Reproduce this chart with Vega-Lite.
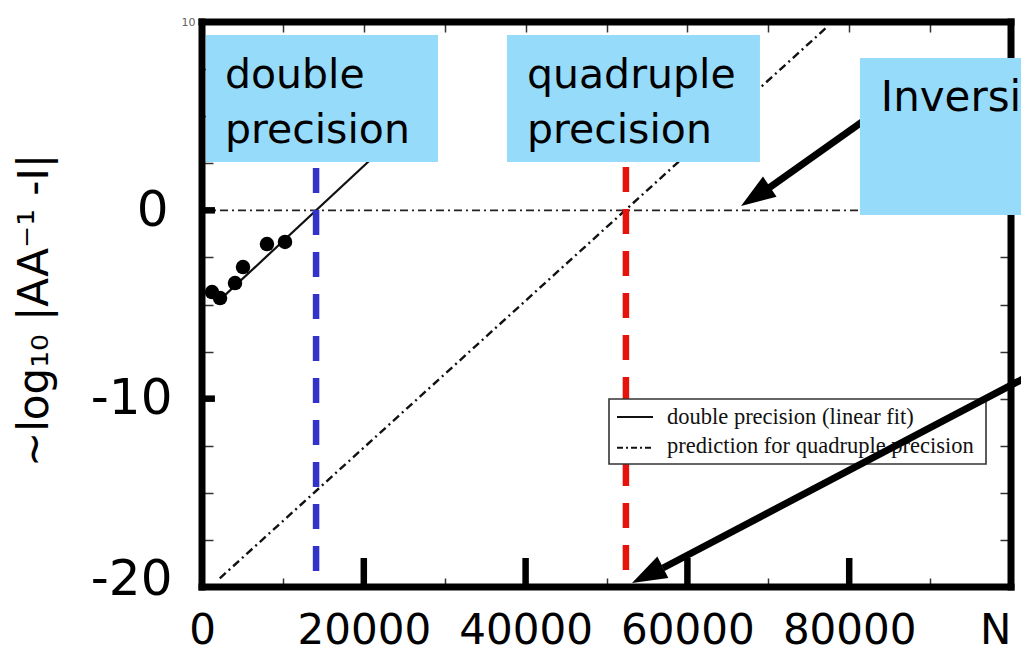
{
  "$schema": "https://vega.github.io/schema/vega-lite/v6.json",
  "width": 809,
  "height": 565,
  "autosize": {"type": "none"},
  "padding": {"left": 202, "top": 22, "right": 10, "bottom": 60},
  "background": "white",
  "config": {"view": {"stroke": null}, "font": "DejaVu Sans"},
  "datasets": {
    "zero": [{"N": 0, "v": 0}, {"N": 100000, "v": 0}],
    "quad": [{"N": 2200, "v": -19.54}, {"N": 77200, "v": 9.71}],
    "fit": [{"N": 1980, "v": -4.85}, {"N": 26000, "v": 4.76}],
    "pts": [
      {"N": 1240, "v": -4.34},
      {"N": 2230, "v": -4.66},
      {"N": 4080, "v": -3.86},
      {"N": 5070, "v": -3.01},
      {"N": 8030, "v": -1.79},
      {"N": 10260, "v": -1.68}
    ],
    "vlines": [
      {"N": 14100, "v": 2.25, "v2": -19.2, "c": "#3333cc"},
      {"N": 52400, "v": 2.3, "v2": -19.2, "c": "#e8120c"}
    ],
    "frame": [
      {"N": 0, "N2": 100000, "v": 10, "v2": 10},
      {"N": 0, "N2": 100000, "v": -20, "v2": -20},
      {"N": 0, "N2": 0, "v": -20, "v2": 10},
      {"N": 100000, "N2": 100000, "v": -20, "v2": 10}
    ],
    "bigticks": [
      {"N": 20000, "N2": 20000, "v": -20, "v2": -18.46},
      {"N": 40000, "N2": 40000, "v": -20, "v2": -18.46},
      {"N": 60000, "N2": 60000, "v": -20, "v2": -18.46},
      {"N": 80000, "N2": 80000, "v": -20, "v2": -18.46},
      {"N": 0, "N2": 1600, "v": 0, "v2": 0},
      {"N": 0, "N2": 1600, "v": -10, "v2": -10}
    ],
    "legbox": [{"N": 50310, "N2": 96910, "v": -10.02, "v2": -13.47}],
    "leg1": [{"N": 51300, "v": -10.97}, {"N": 55750, "v": -10.97}],
    "leg2": [{"N": 51300, "v": -12.6}, {"N": 55750, "v": -12.6}],
    "legtext": [
      {"N": 57480, "v": -10.97, "t": "double precision (linear fit)"},
      {"N": 57480, "v": -12.51, "t": "prediction for quadruple precision"}
    ],
    "arrows": [
      {"N": 85040, "v": 5.75, "N2": 70090, "v2": 1.19},
      {"N": 103580, "v": -8.48, "N2": 56980, "v2": -18.99}
    ],
    "heads": [
      {"N": 66630, "v": 0.23, "a": 236},
      {"N": 53150, "v": -19.79, "a": 243}
    ],
    "boxes": [
      {"N": 490, "N2": 29170, "v": 9.31, "v2": 2.57},
      {"N": 37700, "N2": 68970, "v": 9.31, "v2": 2.57},
      {"N": 81330, "N2": 104000, "v": 8.09, "v2": -0.25}
    ],
    "boxtext": [
      {"N": 2840, "v": 6.5, "t": "double"},
      {"N": 2840, "v": 3.58, "t": "precision"},
      {"N": 40170, "v": 6.5, "t": "quadruple"},
      {"N": 40170, "v": 3.58, "t": "precision"}
    ],
    "invtext": [
      {"N": 83900, "v": 5.27, "t": "Inversion"}
    ]
  },
  "resolve": {"axis": {"x": "independent", "y": "independent"}},
  "layer": [
    {
      "data": {"name": "zero"},
      "mark": {"type": "line", "color": "#222", "strokeWidth": 1.8, "strokeDash": [8, 4, 2, 4]},
      "encoding": {
        "x": {
          "field": "N", "type": "quantitative",
          "scale": {"domain": [0, 100000], "nice": false, "zero": false},
          "axis": {
            "orient": "bottom",
            "values": [0, 10000, 20000, 30000, 40000, 50000, 60000, 70000, 80000, 90000, 100000],
            "labelExpr": "datum.value == 100000 ? 'N' : (datum.value % 20000 == 0 ? '' + datum.value : '')",
            "domain": false, "grid": false,
            "tickSize": -9, "tickWidth": 1.5, "tickColor": "#333",
            "labelFont": "DejaVu Sans", "labelFontSize": 42, "labelColor": "black",
            "labelBaseline": "alphabetic",
            "labelPadding": 65, "labelFlush": false, "labelOverlap": false,
            "labelAlign": {"condition": {"test": "datum.value == 100000", "value": "right"}, "value": "center"},
            "title": null
          }
        },
        "y": {
          "field": "v", "type": "quantitative",
          "scale": {"domain": [-20, 10], "nice": false, "zero": false},
          "axis": {
            "orient": "left",
            "values": [-20, -17.5, -15, -12.5, -10, -7.5, -5, -2.5, 0, 2.5, 5, 7.5, 10],
            "labelExpr": "datum.value == 0 ? '0' : datum.value == -10 ? '-10' : datum.value == -20 ? '-20' : datum.value == 10 ? '10' : ''",
            "domain": false, "grid": false,
            "tickSize": -11, "tickWidth": 1.5, "tickColor": "#333",
            "labelFont": "DejaVu Sans",
            "labelFontSize": {"condition": {"test": "datum.value == 10", "value": 11}, "value": 50},
            "labelColor": {"condition": {"test": "datum.value == 10", "value": "#666"}, "value": "black"},
            "labelPadding": {"condition": [{"test": "datum.value == 10", "value": 18}, {"test": "datum.value == 0", "value": 45}], "value": 41},
            "labelOffset": {"condition": {"test": "datum.value == -20", "value": -8}, "value": 0},
            "labelOverlap": false,
            "title": "~log₁₀ |AA⁻¹ -I|",
            "titleFont": "DejaVu Sans", "titleFontSize": 42, "titleFontWeight": "normal", "titleColor": "black",
            "titleAngle": 270, "titleX": -168, "titleY": 288, "titleAlign": "center", "titleBaseline": "middle"
          }
        }
      }
    },
    {
      "data": {"name": "quad"},
      "mark": {"type": "line", "color": "#111", "strokeWidth": 2.4, "strokeDash": [8, 4, 2, 4]},
      "encoding": {
        "x": {
          "field": "N", "type": "quantitative",
          "scale": {"domain": [0, 100000], "nice": false, "zero": false},
          "axis": {
            "orient": "top",
            "values": [0, 10000, 20000, 30000, 40000, 50000, 60000, 70000, 80000, 90000, 100000],
            "labels": false, "domain": false, "grid": false,
            "tickSize": -10, "tickWidth": 1.5, "tickColor": "#333", "title": null
          }
        },
        "y": {
          "field": "v", "type": "quantitative",
          "scale": {"domain": [-20, 10], "nice": false, "zero": false},
          "axis": {
            "orient": "right",
            "values": [-20, -17.5, -15, -12.5, -10, -7.5, -5, -2.5, 0, 2.5, 5, 7.5, 10],
            "labels": false, "domain": false, "grid": false,
            "tickSize": -11, "tickWidth": 1.5, "tickColor": "#333", "title": null
          }
        }
      }
    },
    {
      "data": {"name": "fit"},
      "mark": {"type": "line", "color": "#111", "strokeWidth": 2.2},
      "encoding": {
        "x": {"field": "N", "type": "quantitative", "scale": {"domain": [0, 100000], "nice": false, "zero": false}, "axis": null},
        "y": {"field": "v", "type": "quantitative", "scale": {"domain": [-20, 10], "nice": false, "zero": false}, "axis": null}
      }
    },
    {
      "data": {"name": "pts"},
      "mark": {"type": "point", "shape": "circle", "filled": true, "color": "#000", "opacity": 1, "size": 210},
      "encoding": {
        "x": {"field": "N", "type": "quantitative", "scale": {"domain": [0, 100000], "nice": false, "zero": false}, "axis": null},
        "y": {"field": "v", "type": "quantitative", "scale": {"domain": [-20, 10], "nice": false, "zero": false}, "axis": null}
      }
    },
    {
      "data": {"name": "vlines"},
      "mark": {"type": "rule", "strokeWidth": 6.5, "strokeDash": [25, 17]},
      "encoding": {
        "x": {"field": "N", "type": "quantitative", "scale": {"domain": [0, 100000], "nice": false, "zero": false}, "axis": null},
        "y": {"field": "v", "type": "quantitative", "scale": {"domain": [-20, 10], "nice": false, "zero": false}, "axis": null},
        "y2": {"field": "v2"},
        "color": {"field": "c", "type": "nominal", "scale": null, "legend": null}
      }
    },
    {
      "data": {"name": "frame"},
      "mark": {"type": "rule", "strokeWidth": 7, "color": "#000", "strokeCap": "square"},
      "encoding": {
        "x": {"field": "N", "type": "quantitative", "scale": {"domain": [0, 100000], "nice": false, "zero": false}, "axis": null},
        "x2": {"field": "N2"},
        "y": {"field": "v", "type": "quantitative", "scale": {"domain": [-20, 10], "nice": false, "zero": false}, "axis": null},
        "y2": {"field": "v2"}
      }
    },
    {
      "data": {"name": "bigticks"},
      "mark": {"type": "rule", "strokeWidth": 6.5, "color": "#000"},
      "encoding": {
        "x": {"field": "N", "type": "quantitative", "scale": {"domain": [0, 100000], "nice": false, "zero": false}, "axis": null},
        "x2": {"field": "N2"},
        "y": {"field": "v", "type": "quantitative", "scale": {"domain": [-20, 10], "nice": false, "zero": false}, "axis": null},
        "y2": {"field": "v2"}
      }
    },
    {
      "data": {"name": "legbox"},
      "mark": {"type": "rect", "fill": "white", "stroke": "#333", "strokeWidth": 1.6},
      "encoding": {
        "x": {"field": "N", "type": "quantitative", "scale": {"domain": [0, 100000], "nice": false, "zero": false}, "axis": null},
        "x2": {"field": "N2"},
        "y": {"field": "v", "type": "quantitative", "scale": {"domain": [-20, 10], "nice": false, "zero": false}, "axis": null},
        "y2": {"field": "v2"}
      }
    },
    {
      "data": {"name": "leg1"},
      "mark": {"type": "line", "color": "#111", "strokeWidth": 2},
      "encoding": {
        "x": {"field": "N", "type": "quantitative", "scale": {"domain": [0, 100000], "nice": false, "zero": false}, "axis": null},
        "y": {"field": "v", "type": "quantitative", "scale": {"domain": [-20, 10], "nice": false, "zero": false}, "axis": null}
      }
    },
    {
      "data": {"name": "leg2"},
      "mark": {"type": "line", "color": "#111", "strokeWidth": 2, "strokeDash": [6, 3, 2, 3]},
      "encoding": {
        "x": {"field": "N", "type": "quantitative", "scale": {"domain": [0, 100000], "nice": false, "zero": false}, "axis": null},
        "y": {"field": "v", "type": "quantitative", "scale": {"domain": [-20, 10], "nice": false, "zero": false}, "axis": null}
      }
    },
    {
      "data": {"name": "legtext"},
      "mark": {"type": "text", "font": "Liberation Serif", "fontSize": 22.5, "color": "#111", "align": "left", "baseline": "middle"},
      "encoding": {
        "x": {"field": "N", "type": "quantitative", "scale": {"domain": [0, 100000], "nice": false, "zero": false}, "axis": null},
        "y": {"field": "v", "type": "quantitative", "scale": {"domain": [-20, 10], "nice": false, "zero": false}, "axis": null},
        "text": {"field": "t"}
      }
    },
    {
      "data": {"name": "arrows"},
      "mark": {"type": "rule", "strokeWidth": 7, "color": "#000"},
      "encoding": {
        "x": {"field": "N", "type": "quantitative", "scale": {"domain": [0, 100000], "nice": false, "zero": false}, "axis": null},
        "x2": {"field": "N2"},
        "y": {"field": "v", "type": "quantitative", "scale": {"domain": [-20, 10], "nice": false, "zero": false}, "axis": null},
        "y2": {"field": "v2"}
      }
    },
    {
      "data": {"name": "heads"},
      "mark": {"type": "point", "shape": "M0,0L-0.7,2L0.7,2Z", "filled": true, "color": "#000", "opacity": 1, "size": 1200},
      "encoding": {
        "x": {"field": "N", "type": "quantitative", "scale": {"domain": [0, 100000], "nice": false, "zero": false}, "axis": null},
        "y": {"field": "v", "type": "quantitative", "scale": {"domain": [-20, 10], "nice": false, "zero": false}, "axis": null},
        "angle": {"field": "a", "type": "quantitative", "scale": null}
      }
    },
    {
      "data": {"name": "boxes"},
      "mark": {"type": "rect", "fill": "#97dbfb"},
      "encoding": {
        "x": {"field": "N", "type": "quantitative", "scale": {"domain": [0, 100000], "nice": false, "zero": false}, "axis": null},
        "x2": {"field": "N2"},
        "y": {"field": "v", "type": "quantitative", "scale": {"domain": [-20, 10], "nice": false, "zero": false}, "axis": null},
        "y2": {"field": "v2"}
      }
    },
    {
      "data": {"name": "boxtext"},
      "mark": {"type": "text", "font": "DejaVu Sans", "fontSize": 41, "color": "#000", "align": "left", "baseline": "alphabetic"},
      "encoding": {
        "x": {"field": "N", "type": "quantitative", "scale": {"domain": [0, 100000], "nice": false, "zero": false}, "axis": null},
        "y": {"field": "v", "type": "quantitative", "scale": {"domain": [-20, 10], "nice": false, "zero": false}, "axis": null},
        "text": {"field": "t"}
      }
    },
    {
      "data": {"name": "invtext"},
      "mark": {"type": "text", "font": "DejaVu Sans", "fontSize": 42, "color": "#000", "align": "left", "baseline": "alphabetic"},
      "encoding": {
        "x": {"field": "N", "type": "quantitative", "scale": {"domain": [0, 100000], "nice": false, "zero": false}, "axis": null},
        "y": {"field": "v", "type": "quantitative", "scale": {"domain": [-20, 10], "nice": false, "zero": false}, "axis": null},
        "text": {"field": "t"}
      }
    }
  ]
}
